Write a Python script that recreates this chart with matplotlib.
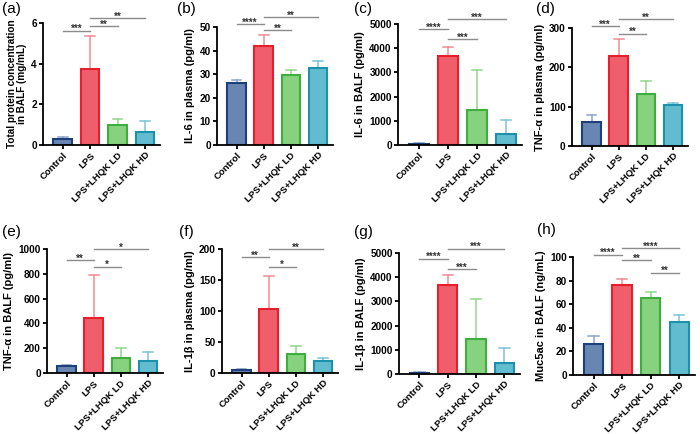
import matplotlib
matplotlib.use('Agg')
from matplotlib import pyplot as plt

plt.rcParams['font.family'] = ['Liberation Sans', 'DejaVu Sans']

groups = ["Control", "LPS", "LPS+LHQK LD", "LPS+LHQK HD"]

# panel data: mean values and upper error limit (mean + SD)
prot_mean = [0.28, 3.75, 0.98, 0.65]
prot_top = [0.40, 5.35, 1.30, 1.20]
il6p_mean = [26.2, 42.0, 29.8, 32.5]
il6p_top = [27.5, 46.5, 31.8, 35.5]
il6b_mean = [60, 3680, 1430, 450]
il6b_top = [80, 4070, 3110, 1050]
tnfp_mean = [62, 229, 133, 104]
tnfp_top = [80, 272, 164, 110]
tnfb_mean = [55, 445, 125, 100]
tnfb_top = [62, 790, 200, 170]
il1p_mean = [5, 103, 31, 19]
il1p_top = [7, 157, 44, 24]
il1b_mean = [60, 3680, 1430, 450]
il1b_top = [80, 4080, 3110, 1060]
muc_mean = [26.5, 76.5, 65.0, 44.5]
muc_top = [33.0, 81.5, 70.5, 50.5]

# significance brackets: (group i, group j, height, stars)
prot_sig = [(0, 1, 5.62, "***"), (1, 2, 5.84, "**"), (1, 3, 6.25, "**")]
il6p_sig = [(0, 1, 51.1, "****"), (1, 2, 48.6, "**"), (1, 3, 54.2, "**")]
il6b_sig = [(0, 1, 4780, "****"), (1, 2, 4366, "***"), (1, 3, 5207, "***")]
tnfp_sig = [(0, 1, 304, "***"), (1, 2, 286, "**"), (1, 3, 322, "**")]
tnfb_sig = [(0, 1, 911, "**"), (1, 2, 858, "*"), (1, 3, 997, "*")]
il1p_sig = [(0, 1, 186.6, "**"), (1, 2, 171.6, "*"), (1, 3, 199.5, "**")]
il1b_sig = [(0, 1, 4768, "****"), (1, 2, 4332, "***"), (1, 3, 5177, "***")]
muc_sig = [(0, 1, 101.9, "****"), (1, 2, 97.2, "**"), (1, 3, 107.5, "****"), (2, 3, 86.7, "**")]

fills = ['#6786b3', '#ef5e6a', '#86d27f', '#62bccf']
edges = ['#1d3f7a', '#e4202e', '#3fae3f', '#1e91aa']
errcols = ['#8ba5c9', '#f08c95', '#91d68b', '#7cc4d4']

W, H = 700, 434
fig = plt.figure(figsize=(7, 4.34), dpi=100)

panels = [
    ("(a)", "Total protein concentration\nin BALF (mg/mL)", prot_mean, prot_top, prot_sig, 6, 2, (43, 160, 23, 145), (2, 9)),
    ("(b)", "IL-6 in plasma (pg/ml)", il6p_mean, il6p_top, il6p_sig, 50, 10, (217, 333, 27, 145), (177, 9)),
    ("(c)", "IL-6 in BALF (pg/ml)", il6b_mean, il6b_top, il6b_sig, 5000, 1000, (398, 522, 24, 145), (354, 9)),
    ("(d)", "TNF-\u03b1 in plasma (pg/ml)", tnfp_mean, tnfp_top, tnfp_sig, 300, 100, (572, 688, 28, 146), (536, 9)),
    ("(e)", "TNF-\u03b1 in BALF (pg/ml)", tnfb_mean, tnfb_top, tnfb_sig, 1000, 200, (47, 163, 249, 373), (2, 232)),
    ("(f)", "IL-1\u03b2 in plasma (pg/ml)", il1p_mean, il1p_top, il1p_sig, 200, 50, (222, 338, 249, 373), (179, 232)),
    ("(g)", "IL-1\u03b2 in BALF (pg/ml)", il1b_mean, il1b_top, il1b_sig, 5000, 1000, (399, 520, 253, 374), (354, 232)),
    ("(h)", "Muc5ac in BALF (ng/mL)", muc_mean, muc_top, muc_sig, 100, 20, (573, 695, 257, 375), (537, 230)),
]

x = list(range(len(groups)))
for tag, ylab, mean, top, sig, ymax, step, box, tagpos in panels:
    x0, x1, y0, y1 = box
    ax = fig.add_axes([x0 / W, 1 - y1 / H, (x1 - x0) / W, (y1 - y0) / H])
    for i in x:
        ax.plot([i, i], [mean[i], top[i]], color=errcols[i], lw=1.1, zorder=1)
        ax.plot([i - 0.18, i + 0.18], [top[i], top[i]], color=errcols[i], lw=1.1, zorder=1)
    ax.bar(x, mean, width=0.68, color=fills, edgecolor=edges, linewidth=1.5, zorder=2)
    for a, b, h, stars in sig:
        ax.plot([a, b], [h, h], color='#8c8c8c', lw=1.0, clip_on=False)
        ax.annotate(stars, xy=((a + b) / 2, h), xytext=(0, -2.5), textcoords='offset points',
                    ha='center', va='bottom', fontsize=7, color='#333333',
                    fontweight='bold', annotation_clip=False)
    ax.set_xlim(-0.72, 3.55)
    ax.set_ylim(0, ymax)
    ax.set_yticks(range(0, ymax + 1, step))
    ax.set_xticks(x)
    ax.set_xticklabels(groups, rotation=45, ha='right', rotation_mode='anchor',
                       fontsize=6.8, fontweight='bold')
    for lbl in ax.get_yticklabels():
        lbl.set_fontweight('bold')
        lbl.set_fontsize(7.2)
    fs = 7.2 if "\n" in ylab else 8
    ax.set_ylabel(ylab, fontsize=fs, fontweight='bold', labelpad=3, linespacing=1.05)
    ax.spines['top'].set_visible(False)
    ax.spines['right'].set_visible(False)
    ax.spines['left'].set_linewidth(1.3)
    ax.spines['bottom'].set_linewidth(1.3)
    ax.tick_params(width=1.3, length=3, pad=1.5)
    ax.tick_params(axis='x', pad=1)
    fig.text(tagpos[0] / W, 1 - tagpos[1] / H, tag, fontsize=11, ha='left', va='center')

plt.savefig("out.png", dpi=100)
